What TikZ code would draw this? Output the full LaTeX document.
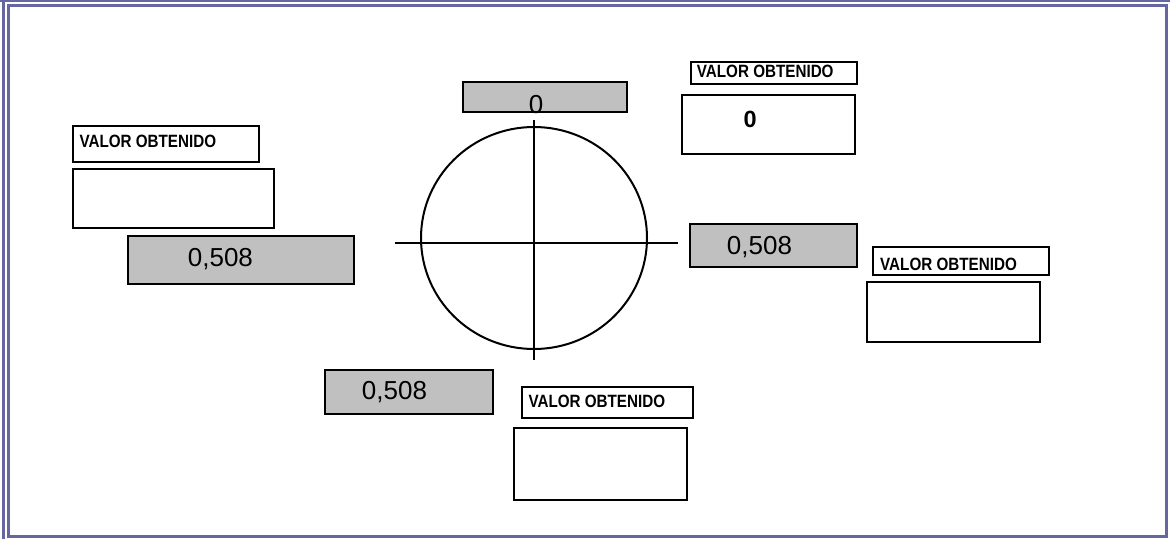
\documentclass[tikz,border=0pt]{standalone}
\usepackage{fontspec}
\usepackage{graphicx}
\setmainfont{Liberation Sans}
\usetikzlibrary{shapes.geometric}
\definecolor{framecol}{RGB}{102,102,160}
\definecolor{boxgray}{RGB}{192,192,192}
\newcommand{\lbltext}{\fontsize{17.8}{20}\selectfont\scalebox{0.855}[1]{\bfseries VALOR OBTENIDO}}
\begin{document}
\begin{tikzpicture}[x=1pt,y=-1pt,
  box/.style={draw=black,line width=1.9pt,rectangle,inner sep=0pt,outer sep=0pt,anchor=north west,fill=white},
  graybox/.style={box,fill=boxgray},
  numtext/.style={inner sep=0pt,anchor=base west,font=\fontsize{26}{30}\selectfont},
  lbl/.style={inner sep=0pt,anchor=base west},
  axis/.style={line width=2pt}]
\useasboundingbox (0,0) rectangle (1170,539);
% frame
\draw[framecol,line width=1.6pt] (0,0.8) -- (1170,0.8);
\draw[framecol,line width=3.2pt] (3.5,0) -- (3.5,539);
\draw[framecol,line width=3.2pt] (8.5,5.8) rectangle (1166.5,536.5);
% circle and axes
\node[draw,ellipse,line width=2pt,minimum width=226pt,minimum height=222pt,inner sep=0pt] (circ) at (534,238) {};
\coordinate (hl) at (395,242.5);
\coordinate (hr) at (677.7,242.5);
\coordinate (vt) at (534.3,120);
\coordinate (vb) at (534.3,360);
\draw[axis] (hl) -- (hr);
\draw[axis] (vt) -- (vb);
% top
\node[graybox,minimum width=164.6pt,minimum height=30pt] (topgray) at (462.7,82.3) {};
\node[inner sep=0pt,anchor=base,font=\fontsize{26}{30}\selectfont] (topnum) at (536,113.5) {0};
\node[box,minimum width=166.6pt,minimum height=22.6pt] (trlabel) at (690.7,61.7) {};
\node[lbl] (trlabeltxt) at (696.7,77.3) {\lbltext};
\node[box,minimum width=172.7pt,minimum height=59.3pt] (trvalue) at (682.3,95) {};
\node[inner sep=0pt,anchor=base west,font=\fontsize{23.5}{28}\selectfont\bfseries] (trnum) at (743.3,127.7) {0};
% left
\node[box,minimum width=186.6pt,minimum height=36pt] (lflabel) at (72.7,125.7) {};
\node[lbl] (lflabeltxt) at (79.3,147.7) {\lbltext};
\node[box,minimum width=201pt,minimum height=59.3pt] (lfvalue) at (72.7,169) {};
\node[graybox,minimum width=225.7pt,minimum height=48.6pt] (lfgray) at (128.3,235.7) {};
\node[numtext] (lfnum) at (187.7,266.7) {0,508};
% right
\node[graybox,minimum width=166.7pt,minimum height=43.3pt] (rtgray) at (690,224) {};
\node[numtext] (rtnum) at (726.7,254.3) {0,508};
\node[box,minimum width=175.7pt,minimum height=28.3pt] (rtlabel) at (873.3,246.7) {};
\node[lbl] (rtlabeltxt) at (880,270) {\lbltext};
\node[box,minimum width=173pt,minimum height=59.7pt] (rtvalue) at (867,282) {};
% bottom
\node[graybox,minimum width=168pt,minimum height=43.7pt] (btgray) at (325.3,370.3) {};
\node[numtext] (btnum) at (361.7,399.5) {0,508};
\node[box,minimum width=171pt,minimum height=31pt] (btlabel) at (521.7,386.7) {};
\node[lbl] (btlabeltxt) at (528.3,407.7) {\lbltext};
\node[box,minimum width=173pt,minimum height=72.3pt] (btvalue) at (513.7,427.7) {};
\end{tikzpicture}
\end{document}
